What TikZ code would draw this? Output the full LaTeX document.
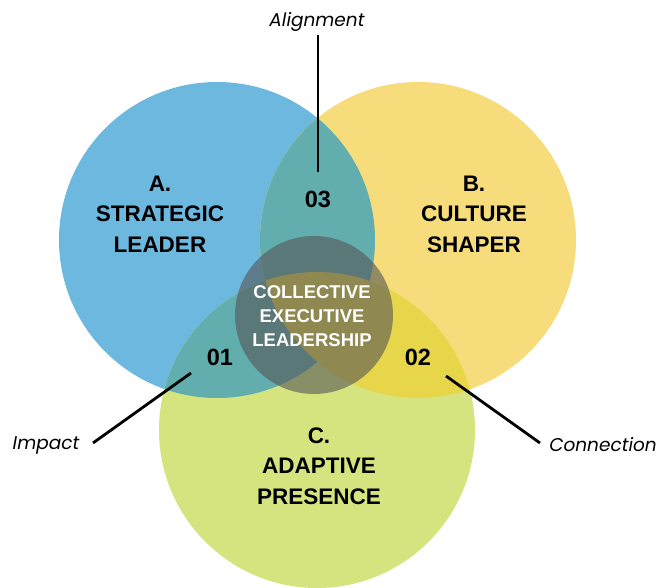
\documentclass[tikz,border=0pt]{standalone}
\usepackage{fontspec}
\setmainfont{Liberation Sans}
\newfontfamily\labelfont{Poppins}
\usepackage{xcolor}
\usetikzlibrary{positioning,calc}

\definecolor{leaderblue}{RGB}{108,184,222}
\definecolor{shaperyellow}{RGB}{246,220,122}
\definecolor{presencegreen}{RGB}{214,228,128}
\definecolor{overlapteal}{RGB}{98,174,174}
\definecolor{overlapgold}{RGB}{232,214,74}
\definecolor{coregray}{RGB}{85,85,85}

\begin{document}
\begin{tikzpicture}[
    x=1pt, y=-1pt,
    title/.style={font=\fontsize{22.5}{30.5}\selectfont\bfseries, align=center, text=black},
    num/.style={font=\fontsize{23.5}{28}\selectfont\bfseries, text=black},
    core/.style={font=\fontsize{18.5}{24}\selectfont\bfseries, align=center, text=white},
    tag/.style={font=\fontsize{18.5}{22}\selectfont\labelfont\itshape, inner sep=2pt},
    pointer/.style={line width=2.8pt, black}
]
\useasboundingbox (0,0) rectangle (657,588);

% the three circles
\fill[leaderblue] (217,240) circle (158);
\fill[shaperyellow] (418,240) circle (158);
\fill[presencegreen] (317,430) circle (158);

% pairwise overlaps
\begin{scope}
  \clip (217,240) circle (158);
  \fill[overlapteal] (418,240) circle (158);
  \fill[overlapteal] (317,430) circle (158);
\end{scope}
\begin{scope}
  \clip (418,240) circle (158);
  \fill[overlapgold] (317,430) circle (158);
\end{scope}

% centre
\fill[coregray, fill opacity=0.6] (314,315) circle (79);

% texts
\node[title] (lead) at (160,214) {A.\\STRATEGIC\\LEADER};
\node[title] (shape) at (474,214) {B.\\CULTURE\\SHAPER};
\node[title] (pres) at (319,466) {C.\\ADAPTIVE\\PRESENCE};
\node[core] (cel) at (312,316) {COLLECTIVE\\EXECUTIVE\\LEADERSHIP};
\node[num] (n03) at (318,199) {03};
\node[num] (n01) at (220,357) {01};
\node[num] (n02) at (418,357) {02};

% labels and pointers
\node[tag] (align) at (317,21.5) {Alignment};
\node[tag] (impact) at (46,445) {Impact};
\node[tag] (conn) at (603,445) {Connection};
\coordinate (align-start) at (318,35);
\coordinate (align-end) at (318,172);
\coordinate (impact-start) at (93,443);
\coordinate (impact-end) at (191,373);
\coordinate (conn-start) at (540,443);
\coordinate (conn-end) at (446,376);
\draw[pointer] (align-start) -- (align-end);
\draw[pointer] (impact-start) -- (impact-end);
\draw[pointer] (conn-start) -- (conn-end);
\end{tikzpicture}
\end{document}
